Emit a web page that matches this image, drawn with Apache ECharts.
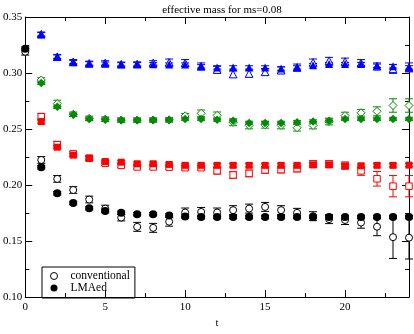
<!DOCTYPE html>
<html><head><meta charset="utf-8">
<script src="https://cdn.jsdelivr.net/npm/echarts@6/dist/echarts.min.js"></script>
<style>html,body{margin:0;padding:0;background:#fff}#c{width:414px;height:334px}</style>
</head><body><div id="c"></div>
<script>
const t = [0,1,2,3,4,5,6,7,8,9,10,11,12,13,14,15,16,17,18,19,20,21,22,23,24];
const xTicks = [0,5,10,15,20];
const yTicks = ['0.10','0.15','0.20','0.25','0.30','0.35'];

const blackConv = [0.319,0.2224,0.2055,0.1956,0.1871,0.1790,0.1710,0.1627,0.1618,0.1673,0.1755,0.1760,0.1755,0.1776,0.1790,0.1805,0.1776,0.1752,0.1722,0.1696,0.1688,0.1665,0.1628,0.1535,0.1530];
const blackConvErr = [0.003,0.003,0.003,0.003,0.003,0.003,0.003,0.004,0.004,0.004,0.004,0.004,0.004,0.004,0.004,0.004,0.004,0.004,0.004,0.004,0.004,0.005,0.008,0.019,0.019];
const blackLma = [0.3217,0.2158,0.1927,0.1840,0.1793,0.1768,0.1753,0.1740,0.1740,0.1728,0.1720,0.1715,0.1715,0.1715,0.1715,0.1715,0.1715,0.1715,0.1715,0.1715,0.1715,0.1715,0.1715,0.1715,0.1715];
const blackLmaErr = [0.0015,0.0015,0.0015,0.0015,0.0015,0.0015,0.0015,0.0015,0.0015,0.0015,0.0015,0.0015,0.0015,0.0015,0.0015,0.0015,0.0015,0.0015,0.0015,0.0015,0.0015,0.0015,0.0015,0.0015,0.0015];

const redConv = [null,0.2610,0.2360,0.2280,0.2240,0.2195,0.2176,0.2162,0.2162,0.2160,0.2155,0.2155,0.2128,0.2090,0.2104,0.2135,0.2138,0.2147,0.2188,0.2188,0.2175,0.2127,0.2056,0.1990,0.1990];
const redConvErr = [null,0.003,0.003,0.002,0.002,0.002,0.002,0.002,0.002,0.002,0.002,0.002,0.003,0.003,0.003,0.003,0.003,0.003,0.003,0.003,0.003,0.004,0.0065,0.0095,0.0095];
const redLma = [null,0.2567,0.2338,0.2267,0.2239,0.2210,0.2204,0.2190,0.2190,0.2184,0.2176,0.2176,0.2176,0.2176,0.2176,0.2176,0.2176,0.2176,0.2180,0.2180,0.2168,0.2172,0.2176,0.2176,0.2178];
const redLmaErr = [null,0.0015,0.0015,0.0015,0.0015,0.0015,0.0015,0.0015,0.0015,0.0015,0.0015,0.0015,0.0015,0.0015,0.0015,0.0015,0.0015,0.0015,0.0015,0.0015,0.0015,0.0015,0.0015,0.0015,0.0015];

const greenConv = [null,0.2938,0.2727,0.2632,0.2595,0.2588,0.2580,0.2580,0.2580,0.2582,0.2618,0.2640,0.2622,0.2560,0.2532,0.2538,0.2532,0.2512,0.2532,0.2567,0.2620,0.2645,0.2658,0.2710,0.2710];
const greenConvErr = [null,0.002,0.003,0.002,0.002,0.002,0.002,0.002,0.002,0.002,0.002,0.003,0.003,0.003,0.003,0.003,0.003,0.003,0.003,0.003,0.003,0.003,0.004,0.006,0.006];
const greenLma = [null,0.2912,0.2698,0.2627,0.2590,0.2584,0.2578,0.2578,0.2580,0.2580,0.2590,0.2590,0.2584,0.2575,0.2555,0.2555,0.2555,0.2560,0.2567,0.2575,0.2590,0.2590,0.2590,0.2590,0.2590];
const greenLmaErr = [null,0.0015,0.0015,0.0015,0.0015,0.0015,0.0015,0.0015,0.0015,0.0015,0.0015,0.0015,0.0015,0.0015,0.0015,0.0015,0.0015,0.0015,0.0015,0.0015,0.0015,0.0015,0.0015,0.0015,0.0015];

const blueConv = [null,0.3346,0.3146,0.3100,0.3086,0.3090,0.3078,0.3080,0.3090,0.3095,0.3090,0.3060,0.3030,0.2990,0.2995,0.3010,0.3025,0.3050,0.3095,0.3110,0.3103,0.3090,0.3060,0.3037,0.3050];
const blueConvErr = [null,0.002,0.002,0.002,0.002,0.002,0.002,0.002,0.002,0.003,0.003,0.003,0.003,0.003,0.003,0.003,0.003,0.003,0.003,0.003,0.003,0.003,0.003,0.004,0.004];
const blueLma = [null,0.3346,0.3146,0.3097,0.3086,0.3083,0.3078,0.3078,0.3078,0.3075,0.3075,0.3060,0.3050,0.3050,0.3050,0.3050,0.3040,0.3050,0.3070,0.3080,0.3080,0.3080,0.3065,0.3060,0.3050];
const blueLmaErr = [null,0.0015,0.0015,0.0015,0.0015,0.0015,0.0015,0.0015,0.0015,0.0015,0.0015,0.0015,0.0015,0.0015,0.0015,0.0015,0.0015,0.0015,0.0015,0.0015,0.0015,0.0015,0.0015,0.0015,0.0015];

function pts(vals, errs) {
  const out = [];
  t.forEach((x, i) => { if (vals[i] != null) out.push([x, vals[i], errs[i]]); });
  return out;
}
const FONT = 'Liberation Serif';
const groups = [
  {c:'#000000', conv:blackConv, ce:blackConvErr, lma:blackLma, le:blackLmaErr, s:'circle', so:7, sf:8, n1:'conventional', n2:'LMAed'},
  {c:'#ff0000', conv:redConv, ce:redConvErr, lma:redLma, le:redLmaErr, s:'rect', so:6.5, sf:7, n1:'conv red', n2:'lma red'},
  {c:'#008b00', conv:greenConv, ce:greenConvErr, lma:greenLma, le:greenLmaErr, s:'diamond', so:8, sf:8.5, n1:'conv green', n2:'lma green'},
  {c:'#0000ff', conv:blueConv, ce:blueConvErr, lma:blueLma, le:blueLmaErr, s:'triangle', so:7.5, sf:8, n1:'conv blue', n2:'lma blue'}
];
function errSeries(data, color) {
  return {
    type:'custom', xAxisIndex:0, yAxisIndex:0, z:1, silent:true,
    encode:{x:0, y:1},
    data:data,
    renderItem:function(params, api){
      const x = api.value(0), y = api.value(1), e = api.value(2);
      const a = api.coord([x, y + e]), b = api.coord([x, y - e]);
      const w = 4;
      const st = {stroke:color, lineWidth:1};
      return {type:'group', children:[
        {type:'line', shape:{x1:a[0], y1:a[1], x2:b[0], y2:b[1]}, style:st},
        {type:'line', shape:{x1:a[0]-w, y1:a[1], x2:a[0]+w, y2:a[1]}, style:st},
        {type:'line', shape:{x1:b[0]-w, y1:b[1], x2:b[0]+w, y2:b[1]}, style:st}
      ]};
    }
  };
}
const series = [];
groups.forEach(g => {
  series.push(errSeries(pts(g.conv, g.ce), g.c));
  series.push(errSeries(pts(g.lma, g.le), g.c));
});
groups.forEach(g => {
  series.push({type:'scatter', name:g.n1, xAxisIndex:0, yAxisIndex:0, z:2, symbol:g.s, symbolSize:g.so,
    itemStyle:{color:'#ffffff', borderColor:g.c, borderWidth:1, opacity:1}, encode:{x:0,y:1}, data:pts(g.conv, g.ce)});
});
groups.forEach(g => {
  series.push({type:'scatter', name:g.n2, xAxisIndex:0, yAxisIndex:0, z:3, symbol:g.s, symbolSize:g.sf,
    itemStyle:{color:g.c, opacity:1}, encode:{x:0,y:1}, data:pts(g.lma, g.le)});
});

const GRID = {left:25, right:5, top:17, bottom:25};
function xAx(pos, interval, len, labels, line) {
  return {type:'value', position:pos, min:0, max:24, interval:interval,
    axisLine:{show:line, onZero:false, lineStyle:{color:'#000', width:1}},
    axisTick:{show:true, inside:true, length:len, lineStyle:{color:'#000'}},
    splitLine:{show:false},
    axisLabel:{show:labels, showMaxLabel:false, margin:5, color:'#000', fontFamily:FONT, fontSize:11,
      formatter: v => xTicks.indexOf(v) >= 0 ? String(v) : ''},
    name: labels ? 't' : '', nameLocation:'middle', nameGap:19,
    nameTextStyle:{color:'#000', fontFamily:FONT, fontSize:11}
  };
}
function yAx(pos, interval, len, labels, line) {
  return {type:'value', position:pos, min:0.10, max:0.35, interval:interval,
    axisLine:{show:line, onZero:false, lineStyle:{color:'#000', width:1}},
    axisTick:{show:true, inside:true, length:len, lineStyle:{color:'#000'}},
    splitLine:{show:false},
    axisLabel:{show:labels, margin:3, color:'#000', fontFamily:FONT, fontSize:11,
      formatter: v => { const s = v.toFixed(2); return yTicks.indexOf(s) >= 0 ? s : ''; }}
  };
}

const chart = echarts.init(document.getElementById('c'), null, {renderer:'canvas'});
chart.setOption({
  animation:false,
  backgroundColor:'#ffffff',
  title:{text:'effective mass for ms=0.08', left:217, top:0, textAlign:'center',
    textStyle:{color:'#000', fontFamily:FONT, fontSize:11, fontWeight:'normal'}},
  grid:GRID,
  legend:{
    data:[
      {name:'conventional', icon:'circle', itemStyle:{color:'#ffffff', borderColor:'#000000', borderWidth:1}},
      {name:'LMAed', icon:'circle', itemStyle:{color:'#000000', borderWidth:0}}
    ],
    orient:'vertical', left:42, top:267,
    padding:[3,5,4,8], itemWidth:7, itemHeight:7, itemGap:0,
    borderColor:'#000', borderWidth:1, borderRadius:0, selectedMode:false,
    textStyle:{color:'#000', fontFamily:FONT, fontSize:11.5, lineHeight:11, padding:[0,0,0,8]}},
  xAxis:[xAx('bottom',5,7,true,true), xAx('bottom',2.5,4,false,false), xAx('top',5,7,false,true), xAx('top',2.5,4,false,false)],
  yAxis:[yAx('left',0.05,7,true,true), yAx('left',0.025,4,false,false), yAx('right',0.05,7,false,true), yAx('right',0.025,4,false,false)],
  series:series
});
</script></body></html>
